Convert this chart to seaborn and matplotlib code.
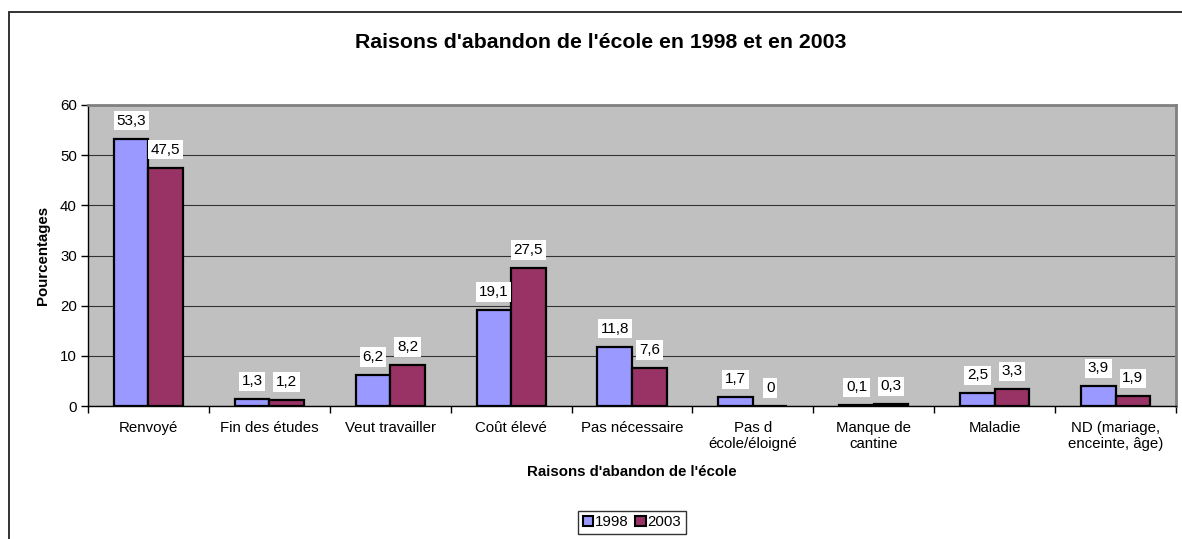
import numpy as np
import pandas as pd
import seaborn as sns
import matplotlib.pyplot as plt
from matplotlib.patches import Rectangle

raisons = ["Renvoyé", "Fin des études", "Veut travailler", "Coût élevé",
           "Pas nécessaire", "Pas d\nécole/éloigné", "Manque de\ncantine",
           "Maladie", "ND (mariage,\nenceinte, âge)"]
val_1998 = [53.3, 1.3, 6.2, 19.1, 11.8, 1.7, 0.1, 2.5, 3.9]
val_2003 = [47.5, 1.2, 8.2, 27.5, 7.6, 0, 0.3, 3.3, 1.9]
annees = ["1998", "2003"]

df = pd.DataFrame({
    "Raison": raisons * 2,
    "Annee": ["1998"] * len(raisons) + ["2003"] * len(raisons),
    "Valeur": val_1998 + val_2003,
})

sns.set_style("white")
plt.rcParams['font.family'] = ['Liberation Sans', 'DejaVu Sans']
plt.rcParams['text.color'] = 'black'
plt.rcParams['axes.labelcolor'] = 'black'
plt.rcParams['xtick.color'] = 'black'
plt.rcParams['ytick.color'] = 'black'

fig = plt.figure(figsize=(11.82, 5.39), dpi=100)
ax = fig.add_axes([88/1182, 1-406/539, (1176-88)/1182, (406-105)/539])

# cadre extérieur
fig.patches.append(Rectangle((9/1182, -0.1), 1.2, 1.1 - 12/539,
                             transform=fig.transFigure, fill=False,
                             edgecolor='#222222', linewidth=1.3))

sns.barplot(data=df, x="Raison", y="Valeur", hue="Annee", order=raisons,
            hue_order=annees, palette=["#9999FF", "#993366"], width=0.572,
            edgecolor='black', linewidth=1.6, saturation=1, ax=ax, zorder=3)

ax.set_facecolor('#C0C0C0')
ax.set_ylim(0, 60)
ax.set_xlim(-0.5, len(raisons) - 0.5)
ax.set_yticks(range(0, 61, 10))
ax.yaxis.grid(True, color='#333333', linewidth=0.8, zorder=0)
ax.set_axisbelow(True)

for s in ['top', 'right']:
    ax.spines[s].set_color('#808080')
    ax.spines[s].set_linewidth(2)
for s in ['left', 'bottom']:
    ax.spines[s].set_color('black')
    ax.spines[s].set_linewidth(1)

ax.set_xticks(np.arange(len(raisons)))
ax.set_xticklabels(raisons, fontsize=10.8)
ax.set_xticks(np.arange(-0.5, len(raisons)), minor=True)
ax.tick_params(axis='x', which='major', length=0, pad=11)
ax.tick_params(axis='x', which='minor', length=5, width=1, color='black', direction='out')
ax.tick_params(axis='y', length=5, width=1, color='black', direction='out', labelsize=10.8, pad=3)
ax.yaxis.set_ticks_position('left')
ax.xaxis.set_ticks_position('bottom')

for cont in ax.containers:
    labs = [f"{b.get_height():g}".replace('.', ',') for b in cont]
    texts = ax.bar_label(cont, labels=labs, padding=8, fontsize=11)
    for t in texts:
        t.set_bbox(dict(facecolor='white', edgecolor='none', pad=2))

ax.set_xlabel("Raisons d'abandon de l'école", fontsize=10.8, fontweight='bold', labelpad=10)
ax.set_ylabel("Pourcentages", fontsize=10.8, fontweight='bold', labelpad=7)
fig.text(601/1182, 1-43/539, "Raisons d'abandon de l'école en 1998 et en 2003",
         ha='center', va='center', fontsize=15.3, fontweight='bold')

ax.legend_.remove()
leg = fig.legend(*ax.get_legend_handles_labels(), loc='center',
                 bbox_to_anchor=(632/1182, 1-522/539), ncol=2, fontsize=10.8,
                 frameon=True, fancybox=False, handlelength=0.7, handleheight=0.7,
                 handletextpad=0.15, columnspacing=0.4, borderpad=0.3,
                 borderaxespad=0)
leg.get_frame().set_edgecolor('black')
leg.get_frame().set_linewidth(1)
for h in leg.legend_handles:
    h.set_linewidth(1.5)

fig.savefig("out.png", dpi=100)
